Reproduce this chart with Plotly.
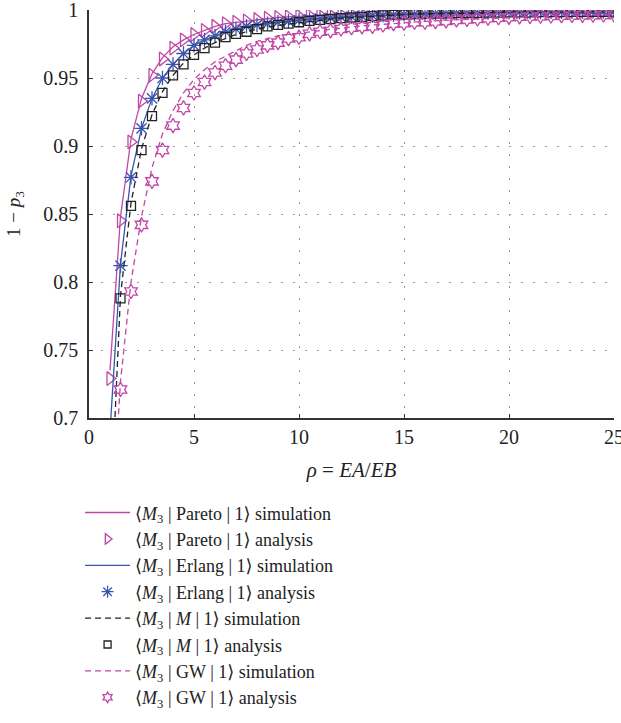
import plotly.graph_objects as go

# load ratio rho = EA/EB
rho = [1.0, 1.5, 2.0, 2.5, 3.0, 3.5, 4.0, 4.5, 5.0, 5.5, 6.0, 6.5, 7.0, 7.5, 8.0, 8.5,
       9.0, 9.5, 10.0, 10.5, 11.0, 11.5, 12.0, 12.5, 13.0, 13.5, 14.0, 14.5, 15.0, 15.5,
       16.0, 16.5, 17.0, 17.5, 18.0, 18.5, 19.0, 19.5, 20.0, 20.5, 21.0, 21.5, 22.0, 22.5,
       23.0, 23.5, 24.0, 24.5, 25.0]

pareto_sim = [0.735, 0.848, 0.905, 0.935, 0.953, 0.965, 0.973, 0.978, 0.982, 0.985, 0.988,
              0.990, 0.991, 0.992, 0.993, 0.994, 0.9945, 0.995, 0.9955, 0.996, 0.9963,
              0.9966, 0.9968, 0.997, 0.9972, 0.9974, 0.9976, 0.9977, 0.9978, 0.998, 0.998,
              0.9981, 0.9982, 0.9983, 0.9984, 0.9984, 0.9985, 0.9986, 0.9986, 0.9987,
              0.9987, 0.9988, 0.9988, 0.9989, 0.9989, 0.999, 0.999, 0.999, 0.9991]
pareto_ana = [0.729, 0.845, 0.903, 0.933, 0.952, 0.964, 0.972, 0.978, 0.982, 0.985, 0.988,
              0.990, 0.991, 0.992, 0.993, 0.994, 0.9945, 0.995, 0.9955, 0.996, 0.9963,
              0.9966, 0.9968, 0.997, 0.9972, 0.9974, 0.9976, 0.9977, 0.9978, 0.998, 0.998,
              0.9981, 0.9982, 0.9983, 0.9984, 0.9984, 0.9985, 0.9986, 0.9986, 0.9987,
              0.9987, 0.9988, 0.9988, 0.9989, 0.9989, 0.999, 0.999, 0.999, 0.9991]

erlang_sim = [0.69, 0.813, 0.878, 0.913, 0.935, 0.950, 0.960, 0.968, 0.974, 0.978, 0.981,
              0.984, 0.986, 0.988, 0.989, 0.990, 0.991, 0.9918, 0.9925, 0.9931, 0.9937,
              0.9942, 0.9947, 0.9951, 0.9955, 0.9959, 0.9962, 0.9965, 0.9968, 0.997, 0.9972,
              0.9974, 0.9976, 0.9977, 0.9978, 0.998, 0.9981, 0.9982, 0.9983, 0.9984,
              0.9984, 0.9985, 0.9986, 0.9986, 0.9987, 0.9987, 0.9988, 0.9988, 0.9989]
erlang_ana = [0.69, 0.812, 0.877, 0.913, 0.935, 0.950, 0.960, 0.968, 0.974, 0.978, 0.981,
              0.984, 0.986, 0.988, 0.989, 0.990, 0.991, 0.9918, 0.9925, 0.9931, 0.9937,
              0.9942, 0.9947, 0.9951, 0.9955, 0.9959, 0.9962, 0.9965, 0.9968, 0.997, 0.9972,
              0.9974, 0.9976, 0.9977, 0.9978, 0.998, 0.9981, 0.9982, 0.9983, 0.9984,
              0.9984, 0.9985, 0.9986, 0.9986, 0.9987, 0.9987, 0.9988, 0.9988, 0.9989]

mm1_sim = [0.62, 0.790, 0.858, 0.898, 0.923, 0.940, 0.952, 0.961, 0.967, 0.972, 0.976,
           0.979, 0.982, 0.984, 0.986, 0.9875, 0.9887, 0.9897, 0.9906, 0.9915, 0.9925,
           0.9933, 0.994, 0.9945, 0.995, 0.9955, 0.996, 0.9964, 0.9967, 0.997, 0.9972,
           0.9974, 0.9975, 0.9977, 0.9978, 0.9979, 0.998, 0.9981, 0.9982, 0.9983,
           0.9983, 0.9984, 0.9985, 0.9985, 0.9986, 0.9986, 0.9987, 0.9987, 0.9988]
mm1_ana = [0.62, 0.788, 0.856, 0.897, 0.922, 0.939, 0.952, 0.960, 0.967, 0.972, 0.976,
           0.980, 0.9825, 0.984, 0.986, 0.988, 0.989, 0.990, 0.991, 0.992, 0.9927,
           0.9934, 0.994, 0.9945, 0.995, 0.9955, 0.996, 0.9964, 0.9967, 0.997, 0.9972,
           0.9974, 0.9975, 0.9977, 0.9978, 0.9979, 0.998, 0.9981, 0.9982, 0.9983,
           0.9983, 0.9984, 0.9985, 0.9985, 0.9986, 0.9986, 0.9987, 0.9987, 0.9988]

gw_sim = [0.60, 0.727, 0.800, 0.848, 0.884, 0.909, 0.926, 0.939, 0.949, 0.956, 0.962,
          0.966, 0.970, 0.974, 0.977, 0.979, 0.981, 0.982, 0.983, 0.984, 0.985, 0.9857,
          0.9867, 0.9876, 0.9884, 0.989, 0.9896, 0.9903, 0.9908, 0.9913, 0.9917, 0.9921,
          0.9925, 0.9929, 0.9933, 0.9936, 0.994, 0.9943, 0.9946, 0.9949, 0.9952, 0.9954,
          0.9956, 0.9958, 0.996, 0.9962, 0.9963, 0.9965, 0.9966]
gw_ana = [0.62, 0.721, 0.793, 0.842, 0.874, 0.897, 0.915, 0.928, 0.939, 0.947, 0.954,
          0.959, 0.9635, 0.968, 0.971, 0.974, 0.976, 0.979, 0.980, 0.9825, 0.984, 0.9847,
          0.986, 0.987, 0.9876, 0.988, 0.989, 0.990, 0.9903, 0.991, 0.991, 0.9915, 0.992,
          0.9927, 0.993, 0.9934, 0.994, 0.9943, 0.9946, 0.995, 0.9952, 0.9954, 0.9956,
          0.9958, 0.996, 0.9961, 0.9962, 0.9963, 0.9964]

x_ticks = [0, 5, 10, 15, 20, 25]
y_ticks = [0.7, 0.75, 0.8, 0.85, 0.9, 0.95, 1.0]
y_tick_labels = ["0.7", "0.75", "0.8", "0.85", "0.9", "0.95", "1"]

PINK = "#C047A6"
BLUE = "#3A55AE"
BLACK = "#222222"
FONT = "Liberation Serif, DejaVu Serif, serif"

fig = go.Figure()

def lbl(mid, kind):
    return "⟨<i>M</i><sub>3</sub> | " + mid + " | 1⟩ " + kind

def add_line(y, name, color, dash, grp):
    fig.add_trace(go.Scatter(x=rho, y=y, mode="lines", name=name, legendgroup=grp,
                             line=dict(color=color, width=1.3, dash=dash)))

def add_marks(y, name, color, symbol, size, lsize, grp):
    # the plotted markers, legend handled by a small dummy entry
    fig.add_trace(go.Scatter(x=rho, y=y, mode="markers", name=name, legendgroup=grp,
                             showlegend=False,
                             marker=dict(symbol=symbol, size=size, color=color,
                                         line=dict(color=color, width=1.3))))
    fig.add_trace(go.Scatter(x=[None], y=[None], mode="markers", name=name, legendgroup=grp,
                             marker=dict(symbol=symbol, size=lsize, color=color,
                                         line=dict(color=color, width=1.3))))

add_line(pareto_sim, lbl("Pareto", "simulation"), PINK, "solid", "g1")
add_marks(pareto_ana, lbl("Pareto", "analysis"), PINK, "triangle-right-open", 12, 9, "g2")
add_line(erlang_sim, lbl("Erlang", "simulation"), BLUE, "solid", "g3")
add_marks(erlang_ana, lbl("Erlang", "analysis"), BLUE, "asterisk-open", 12, 10, "g4")
add_line(mm1_sim, lbl("<i>M</i>", "simulation"), BLACK, "6px,4px", "g5")
add_marks(mm1_ana, lbl("<i>M</i>", "analysis"), BLACK, "square-open", 9, 7, "g6")
add_line(gw_sim, lbl("GW", "simulation"), PINK, "6px,4px", "g7")
add_marks(gw_ana, lbl("GW", "analysis"), PINK, "hexagram-open", 11, 8, "g8")

axis_common = dict(
    showline=True, linecolor="#333333", linewidth=1.5,
    ticks="inside", ticklen=4, tickcolor="#333333",
    showgrid=True, gridcolor="#9a9a9a", gridwidth=1, griddash="2px,10px",
    zeroline=False, automargin=False, ticklabeloverflow="allow",
    tickfont=dict(family=FONT, size=20, color="#222222"),
)

fig.update_xaxes(range=[0, 25], tickvals=x_ticks,
                 title=dict(text="<i>ρ</i> = <i>EA</i>/<i>EB</i>", standoff=16,
                            font=dict(family=FONT, size=21, color="#222222")),
                 **axis_common)
fig.update_yaxes(range=[0.7, 1.0], tickvals=y_ticks, ticktext=y_tick_labels,
                 ticklabelstandoff=5,
                 title=dict(text="1 − <i>p</i><sub>3</sub>", standoff=18,
                            font=dict(family=FONT, size=19, color="#222222")),
                 **axis_common)

fig.update_layout(
    width=621, height=723,
    margin=dict(l=89, r=7, t=10, b=302),
    plot_bgcolor="white", paper_bgcolor="white",
    font=dict(family=FONT, size=19, color="#222222"),
    legend=dict(x=-0.017, y=-0.187, xanchor="left", yanchor="top",
                tracegroupgap=0, itemwidth=45,
                font=dict(family=FONT, size=18, color="#222222")),
)

# drop the browser's default 8px body margin so the figure fills the window
fig.write_html("out.html", config={"displayModeBar": False},
               post_script="document.body.style.margin = '0';")
